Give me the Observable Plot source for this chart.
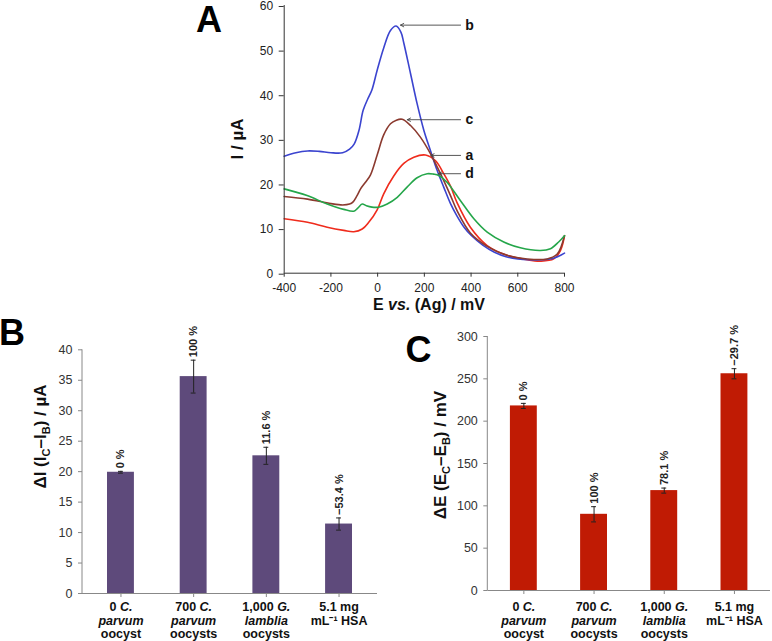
<!DOCTYPE html>
<html><head><meta charset="utf-8">
<script src="https://cdn.jsdelivr.net/npm/d3@7"></script>
<script src="https://cdn.jsdelivr.net/npm/@observablehq/plot@0.6"></script>
<style>
html,body{margin:0;padding:0;background:#fff;}
#wrap{position:relative;width:772px;height:641px;overflow:hidden;background:#fff;}
</style></head>
<body><div id="wrap"></div>
<script>
// ---------- Panel A data (DPV curves) ----------
const seriesA = ["a", "b", "c", "d"];
const colorsA = ["#ef2b1c", "#3b44cf", "#8b3a2f", "#25a64a"];
const E_a = [-400,-300,-216,-145,-102,-66,-38,-2,26,69,112,155,205,248,283,312,340,397,469,554,640,697,754,783,800];
const I_a = [12.2,11.4,10.3,9.6,9.3,9.9,11.4,14.2,17.8,21.8,24.6,26.0,26.5,25.2,22.3,19.5,15.8,10.3,6.2,4.0,3.0,2.7,3.2,5.1,8.4];
const E_b = [-400,-350,-300,-250,-200,-150,-120,-100,-80,-62,-42,-25,-2,26,55,79,100,112,141,169,198,226,255,283,312,340,370,400,450,500,550,600,650,700,750,800];
const I_b = [26.2,27.0,27.4,27.3,27.0,27.0,27.8,29.0,32.0,36.5,39.1,41.0,45.5,50.5,54.4,55.4,54.0,51.6,44.7,38.0,32.0,27.5,23.0,19.3,15.6,12.8,10.3,8.5,6.3,4.7,3.7,3.2,3.0,3.0,3.3,4.5];
const E_c = [-400,-300,-200,-150,-120,-105,-88,-73,-52,-31,-2,26,55,80,105,141,183,226,269,312,340,397,469,554,640,726,769,800];
const I_c = [17.2,16.6,15.6,15.3,15.5,16.0,17.4,18.9,20.4,22.0,26.5,31.0,33.5,34.3,34.5,33.1,30.5,26.8,22.3,17.4,14.0,9.0,6.0,4.0,3.2,3.2,4.3,8.4];
const E_d = [-400,-302,-216,-145,-102,-85,-66,-48,-24,4,41,84,126,169,212,240,262,297,354,412,469,540,611,697,740,775,800];
const I_d = [18.9,17.4,15.5,14.3,13.9,14.6,15.5,15.1,14.8,14.8,15.5,17.0,19.3,21.4,22.3,22.2,21.9,20.4,16.3,12.2,9.2,7.0,5.7,5.1,5.5,7.0,8.4];
const ticksAx = [-400,-200,0,200,400,600,800];
const ticksAy = [0,10,20,30,40,50,60];
const arrowLabels = ["b","c","a","d"];
const arrowTipE = [98,127,228,260];
const arrowTipI = [55.6,34.4,26.4,22.3];
const arrowTailE = [355,355,355,355];
const arrowLabelE = [393,393,393,393];
const titleAx = [["E ",""],["vs.","italic"],[" (Ag) / mV",""]];
const titleAy = [["I / µA",""]];

// ---------- Panels B & C data (bars) ----------
const categories = ["0 C. parvum oocyst","700 C. parvum oocysts","1,000 G. lamblia oocysts","5.1 mg mL-1 HSA"];
const tickLabels = ["0 _C._\n_parvum_\noocyst","700 _C._\n_parvum_\noocysts","1,000 _G._\n_lamblia_\noocysts","5.1 mg\nmL⁻¹ HSA"];
const valB = [19.9, 35.6, 22.6, 11.4];
const errB = [0.15, 2.7, 1.4, 1.0];
const pctB = ["0 %","100 %","11.6 %","−53.4 %"];
const ticksB = [0,5,10,15,20,25,30,35,40];
const titleB = [["ΔI (I",""],["C","sub"],["–I",""],["B","sub"],[") / µA",""]];
const valC = [218, 90, 118, 256];
const errC = [3, 9, 3, 6];
const pctC = ["0 %","100 %","78.1 %","−29.7 %"];
const ticksC = [0,50,100,150,200,250,300];
const titleC = [["ΔE (E",""],["C","sub"],["–E",""],["B","sub"],[") / mV",""]];
const panelLetters = ["A","B","C"];

// ---------- helpers ----------
const FONT = '"Liberation Sans", Arial, Helvetica, sans-serif';
const wrap = document.getElementById("wrap");
function place(svg, left, top) {
  svg.style.position = "absolute";
  svg.style.left = left + "px";
  svg.style.top = top + "px";
  svg.style.background = "transparent";
  svg.style.overflow = "visible";
  wrap.appendChild(svg);
}
function richText(sel, parts, size) {
  parts.forEach(([t, kind], i) => {
    const ts = sel.append("tspan").text(t);
    if (kind === "italic") ts.attr("font-style", "italic");
    if (kind === "sub") ts.attr("font-size", size * 0.65).attr("dy", size * 0.25);
    const prev = parts[i - 1];
    if (prev && prev[1] === "sub" && kind !== "sub") ts.attr("dy", -size * 0.25);
  });
}
function addLetter(svg, letter, x, y) {
  d3.select(svg).append("text").attr("x", x).attr("y", y)
    .attr("text-anchor", "start")
    .attr("font-family", FONT).attr("font-size", 36).attr("font-weight", "bold")
    .attr("fill", "#000").text(letter);
}
function addYTitle(svg, parts, cx, cy, size) {
  const t = d3.select(svg).append("text")
    .attr("transform", `translate(${cx},${cy}) rotate(-90)`)
    .attr("text-anchor", "middle").attr("font-family", FONT)
    .attr("font-size", size).attr("font-weight", "bold").attr("fill", "#111");
  richText(t, parts, size);
}
function italicizeTicks(svg) {
  const ns = "http://www.w3.org/2000/svg";
  const g = svg.querySelectorAll('g[aria-label="x-axis tick label"]');
  g.forEach(gg => {
    gg.setAttribute("font-weight", "bold");
    gg.setAttribute("fill", "#111");
    gg.querySelectorAll("text").forEach(tx => {
      const spans = tx.querySelectorAll("tspan");
      const nodes = spans.length ? Array.from(spans) : [tx];
      nodes.forEach(node => {
        const s = node.textContent;
        if (!s.includes("_")) return;
        node.textContent = "";
        s.split("_").forEach((part, i) => {
          if (!part) return;
          const t = document.createElementNS(ns, "tspan");
          if (i % 2) t.setAttribute("font-style", "italic");
          t.textContent = part;
          node.appendChild(t);
        });
      });
    });
  });
}

// ---------- Panel A ----------
const rowsA = [];
[[E_a, I_a, "a"], [E_b, I_b, "b"], [E_c, I_c, "c"], [E_d, I_d, "d"]].forEach(([E, I, s]) =>
  E.forEach((e, i) => rowsA.push({E: e, I: I[i], s})));
const arrows = arrowLabels.map((l, i) => ({l, x1: arrowTailE[i], x2: arrowTipE[i], y: arrowTipI[i], lx: arrowLabelE[i]}));

const chartA = Plot.plot({
  width: 400, height: 312,
  marginLeft: 93.7, marginRight: 26, marginTop: 5, marginBottom: 39.3,
  style: {fontFamily: FONT, fontSize: "12px", color: "#222", background: "transparent", overflow: "visible"},
  x: {domain: [-400, 800]},
  y: {domain: [0, 60]},
  color: {domain: seriesA, range: colorsA},
  marks: [
    Plot.line(rowsA, {x: "E", y: "I", z: "s", stroke: "s", strokeWidth: 1.6, curve: "catmull-rom"}),
    Plot.arrow(arrows, {x1: "x1", y1: "y", x2: "x2", y2: "y", stroke: "#444", strokeWidth: 0.9, headLength: 6, headAngle: 55}),
    Plot.text(arrows, {x: "lx", y: "y", text: "l", fontWeight: "bold", fontSize: 14, fill: "#111"}),
    Plot.ruleX([-400], {stroke: "#333"}),
    Plot.ruleY([0], {stroke: "#333"}),
    Plot.axisX({ticks: ticksAx, tickFormat: d => String(d), tickSize: 4, tickPadding: 6, label: null, stroke: "#333"}),
    Plot.axisY({ticks: ticksAy, tickFormat: d => String(d), tickSize: 5, tickPadding: 6, label: null, stroke: "#333", dy: 1})
  ]
});
place(chartA, 190, 0);
addLetter(chartA, panelLetters[0], 6, 32);
{
  const t = d3.select(chartA).append("text").attr("x", 239).attr("y", 309.5)
    .attr("text-anchor", "middle").attr("font-family", FONT).attr("font-size", 16)
    .attr("font-weight", "bold").attr("fill", "#111");
  richText(t, titleAx, 16);
}
addYTitle(chartA, titleAy, 53, 139, 17);

// ---------- Bar panels ----------
function barChart(vals, errs, pcts, o) {
  const bars = categories.map((c, i) => ({c, v: vals[i], e: errs[i], p: pcts[i]}));
  const chart = Plot.plot({
    width: o.width, height: o.height,
    marginLeft: o.ml, marginRight: o.mr, marginTop: o.mt, marginBottom: o.mb,
    style: {fontFamily: FONT, fontSize: "12.5px", color: "#333", background: "transparent", overflow: "visible"},
    x: {domain: categories, paddingInner: o.pi, paddingOuter: o.po, round: false},
    y: {domain: [0, o.yMax]},
    marks: [
      Plot.barY(bars, {x: "c", y: "v", fill: o.fill}),
      Plot.ruleX(bars, {x: "c", y1: d => d.v - d.e, y2: d => d.v + d.e, stroke: "#222", strokeWidth: 1}),
      Plot.tickY(bars, {x: "c", y: d => d.v + d.e, stroke: "#222", insetLeft: 11, insetRight: 11}),
      Plot.tickY(bars, {x: "c", y: d => d.v - d.e, stroke: "#222", insetLeft: 11, insetRight: 11}),
      Plot.text(bars, {x: "c", y: d => d.v + d.e, text: "p", rotate: -90, textAnchor: "start", dy: -3, fontWeight: "bold", fontSize: 11, fill: "#222"}),
      Plot.ruleY([0], {stroke: "#888"}),
      Plot.axisX({tickSize: 4, tickPadding: o.xpad, tickFormat: d => tickLabels[categories.indexOf(d)], label: null, stroke: "#888", lineHeight: 1.1, fontSize: 12.5}),
      Plot.axisY({ticks: o.ticks, tickSize: 4, tickPadding: 6, tickFormat: d => String(d), label: null, stroke: "#888"})
    ]
  });
  const y = chart.scale("y");
  d3.select(chart).append("line")
    .attr("x1", o.ml).attr("x2", o.ml)
    .attr("y1", y.apply(0)).attr("y2", y.apply(o.yMax))
    .attr("stroke", "#888");
  italicizeTicks(chart);
  return chart;
}

const chartB = barChart(valB, errB, pctB, {
  width: 390, height: 341, ml: 82, mr: 13, mt: 49.3, mb: 48, xpad: 3.5,
  pi: 0.63, po: 0.344, yMax: 40, ticks: ticksB, fill: "#5e4a7b"
});
place(chartB, 0, 300);
addLetter(chartB, panelLetters[1], -1, 45);
addYTitle(chartB, titleB, 46, 136.5, 17);

const chartC = barChart(valC, errC, pctC, {
  width: 382, height: 341, ml: 97.3, mr: 2, mt: 36, mb: 51, xpad: 6.5,
  pi: 0.617, po: 0.322, yMax: 300, ticks: ticksC, fill: "#c01b04"
});
place(chartC, 390, 300);
addLetter(chartC, panelLetters[2], 15.5, 62);
addYTitle(chartC, titleC, 56, 155, 17);
</script>
</body></html>
